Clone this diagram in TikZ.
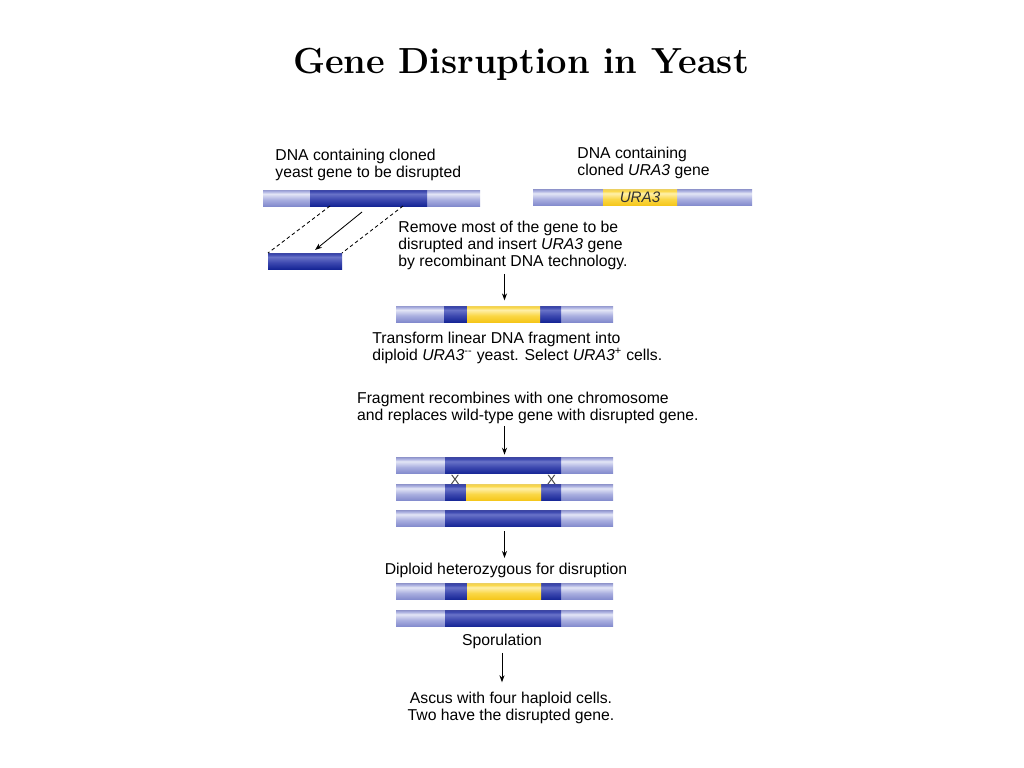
\documentclass[tikz,border=0pt]{standalone}
\usepackage{fontspec}
\newfontfamily\sans{Liberation Sans}
\usepackage{tikz}
\usetikzlibrary{arrows.meta,calc}
\definecolor{LiteBot}{RGB}{130,138,205}
\definecolor{LiteMid}{RGB}{170,175,224}
\definecolor{LiteHi}{RGB}{228,230,246}
\definecolor{LiteEdge}{RGB}{150,155,208}
\definecolor{DarkBot}{RGB}{22,38,150}
\definecolor{DarkMid}{RGB}{60,72,175}
\definecolor{DarkHi}{RGB}{105,115,200}
\definecolor{DarkEdge}{RGB}{60,70,165}
\definecolor{YelBot}{RGB}{245,198,25}
\definecolor{YelMid}{RGB}{250,215,70}
\definecolor{YelHi}{RGB}{255,240,170}
\definecolor{YelEdge}{RGB}{240,210,90}
\pgfdeclareverticalshading{litebar}{100bp}{color(0bp)=(LiteBot); color(25bp)=(LiteBot); color(45bp)=(LiteMid); color(63bp)=(LiteHi); color(71bp)=(LiteMid); color(75bp)=(LiteEdge); color(100bp)=(LiteEdge)}
\pgfdeclareverticalshading{darkbar}{100bp}{color(0bp)=(DarkBot); color(25bp)=(DarkBot); color(45bp)=(DarkMid); color(63bp)=(DarkHi); color(71bp)=(DarkMid); color(75bp)=(DarkEdge); color(100bp)=(DarkEdge)}
\pgfdeclareverticalshading{yelbar}{100bp}{color(0bp)=(YelBot); color(25bp)=(YelBot); color(45bp)=(YelMid); color(63bp)=(YelHi); color(71bp)=(YelMid); color(75bp)=(YelEdge); color(100bp)=(YelEdge)}
\newcommand\px{0.025cm}

\begin{document}
\begin{tikzpicture}[x=0.025cm, y=-0.025cm, line width=0.6pt,
	   >={Stealth[length=5pt,width=3.6pt]},
	   note/.style={font=\sans\fontsize{11.2}{11.9}\selectfont, inner sep=0pt, align=left},
	   seg/.style 2 args={rectangle, inner sep=0pt, outer sep=0pt, anchor=west,
	                      minimum height=16*\px, minimum width=#1*\px, shade, shading=#2},
	   flow/.style 2 args={->, shorten <=#1, shorten >=#2},
	   cut/.style={dash pattern=on 2.5pt off 2pt}]
	\useasboundingbox[fill=white] (0,0) rectangle (1024,768);
	\node[font=\fontsize{25.8}{30}\selectfont\bfseries, anchor=base] (title) at (521,74) {Gene Disruption in Yeast};

	%% Cloned gene and URA3
	\node[note, anchor=base west] (clonetxt) at (275,177.7) {DNA containing cloned\\yeast gene to be disrupted};
	\node[note, anchor=base west] (uratxt) at (577,175.7) {DNA containing\\cloned \textit{URA3} gene};
	\node[seg={217}{litebar}] (clone) at (263,198) {};
	\node[seg={117}{darkbar}] (clone_gene) at (310,198) {};
	\node[seg={219}{litebar}] (ura) at (533,197.5) {};
	\node[seg={74}{yelbar}, font=\sans\itshape\fontsize{10.8}{12}\selectfont, text=black!80] (ura_gene) at (603,197.5) {URA3};

	%% Piece taken out
	\node[seg={74}{darkbar}] (piece) at (268,261) {};
	\coordinate (cutL) at (330,206);
	\coordinate (cutR) at (403,206);
	\coordinate (pull) at (362,212);
	\coordinate (drop) at (315,250);
	\draw[cut] (cutL) -- (piece.north west);
	\draw[cut] (cutR) -- (piece.north east);
	\draw[->] (pull) -- (drop);

	%% Disrupted fragment
	\node[note, anchor=base west] (removetxt) at (398,266) {Remove most of the gene to be\\disrupted and insert \textit{URA3} gene\\by recombinant DNA technology.};
	\node[seg={217}{litebar}] (frag) at (396,314) {};
	\node[seg={117}{darkbar}] (frag_gene) at (444,314) {};
	\node[seg={73}{yelbar}] (frag_ura) at (467,314) {};
	\draw[flow={3pt}{4pt}] (removetxt.south -| frag.north) -- (frag.north);
	\node[note, anchor=base west] (transtxt) at (372,360) {Transform linear DNA fragment into\\diploid \textit{URA3}\textsuperscript{--} yeast. Select \textit{URA3}\textsuperscript{+} cells.};

	%% Recombination
	\node[note, anchor=base west] (recombtxt) at (356.7,420.7) {Fragment recombines with one chromosome\\and replaces wild-type gene with disrupted gene.};
	\node[seg={217}{litebar}] (chrA) at (396,465.5) {};
	\node[seg={116}{darkbar}] (chrA_gene) at (445,465.5) {};
	\node[seg={217}{litebar}] (chrB) at (396,492.5) {};
	\node[seg={116}{darkbar}] (chrB_gene) at (445,492.5) {};
	\node[seg={75}{yelbar}] (chrB_ura) at (466,492.5) {};
	\node[seg={217}{litebar}] (chrC) at (396,518.5) {};
	\node[seg={116}{darkbar}] (chrC_gene) at (445,518.5) {};
	\node[font=\sans\fontsize{9.5}{9.5}\selectfont, text=black!75, inner sep=0pt] (crossL) at (455,479.5) {X};
	\node[font=\sans\fontsize{9.5}{9.5}\selectfont, text=black!75, inner sep=0pt] (crossR) at (551.5,479.5) {X};
	\draw[flow={1pt}{2pt}] (recombtxt.south -| chrA.north) -- (chrA.north);

	%% Heterozygous diploid
	\node[note, anchor=base] (hettxt) at (506,574) {Diploid heterozygous for disruption};
	\draw[flow={3.5pt}{3pt}] (chrC.south) -- (chrC.south |- hettxt.north);
	\node[seg={217}{litebar}] (hetA) at (396,591.5) {};
	\node[seg={116}{darkbar}] (hetA_gene) at (445,591.5) {};
	\node[seg={74}{yelbar}] (hetA_ura) at (467,591.5) {};
	\node[seg={217}{litebar}] (hetB) at (396,618.5) {};
	\node[seg={116}{darkbar}] (hetB_gene) at (445,618.5) {};

	%% Sporulation
	\node[note, anchor=base] (sportxt) at (502,645) {Sporulation};
	\node[note, align=center, anchor=base] (ascustxt) at (511,720.7) {Ascus with four haploid cells.\\Two have the disrupted gene.};
	\draw[flow={3pt}{7pt}] (sportxt.south) -- (sportxt.south |- ascustxt.north);
\end{tikzpicture}
\end{document}
